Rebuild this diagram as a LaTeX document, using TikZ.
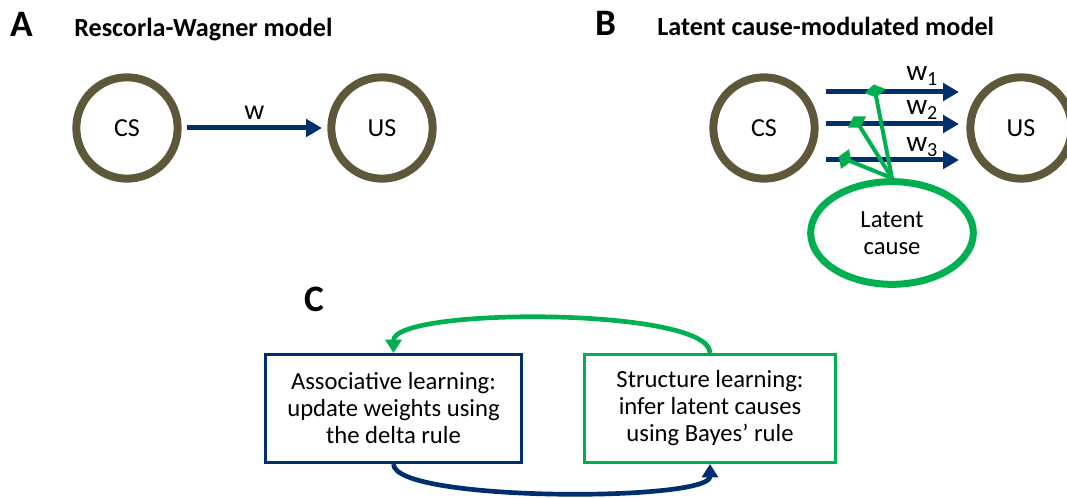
\documentclass[tikz,border=0pt]{standalone}
\usepackage{fontspec}
\setmainfont{Carlito}
\usetikzlibrary{arrows.meta,positioning,shapes.geometric}

\definecolor{stimbrown}{RGB}{94,87,58}
\definecolor{wnavy}{RGB}{0,47,110}
\definecolor{lcgreen}{RGB}{0,176,80}

\begin{document}
\begin{tikzpicture}[
    x=0.75pt, y=-0.75pt,
    every node/.style={font=\fontsize{18.5}{20.25}\selectfont},
    panel/.style={anchor=base west, inner sep=0pt, font=\fontsize{28}{32}\selectfont\bfseries},
    heading/.style={anchor=base west, inner sep=0pt, font=\fontsize{19.6}{23}\selectfont\bfseries},
    stim/.style={circle, draw=stimbrown, line width=6pt, minimum size=76pt, inner sep=0pt, font=\fontsize{19.5}{22}\selectfont},
    weight/.style={draw=wnavy, line width=3.75pt, -{Triangle[length=12pt,width=13pt]}},
    wlabel/.style={anchor=base west, inner sep=0pt, font=\fontsize{22}{26}\selectfont},
    latent/.style={ellipse, draw=lcgreen, line width=5.25pt, minimum width=122pt, minimum height=77pt, align=center},
    modlink/.style={draw=lcgreen, line width=3pt, -{Diamond[length=10pt,width=16pt]}, shorten >=-5pt},
    learnbox/.style={rectangle, line width=2.25pt, minimum height=81pt, align=center},
    cycle/.style={line width=3.5pt, -{Triangle[length=10pt,width=12pt]}}
]
\useasboundingbox (0,0) rectangle (1067,498);

% Panel A
\node[panel] (labA) at (10,37) {A};
\node[heading] (titA) at (74,37) {Rescorla-Wagner model};
\node[stim] (csA) at (127,128) {CS};
\node[stim] (usA) at (382,128) {US};
\draw[weight, shorten <=4pt, shorten >=4pt] (csA) -- node[above=6pt, inner sep=0pt, anchor=base, font=\fontsize{21}{24}\selectfont] {w} (usA);

% Panel B
\node[panel] (labB) at (595,36) {B};
\node[heading] (titB) at (657,36) {Latent cause-modulated model};
\node[stim] (csB) at (764,128) {CS};
\node[stim] (usB) at (1021,128) {US};
\node[latent] (lc) at (892,233) {Latent\\cause};

\coordinate (s1) at (826,92);  \coordinate (e1) at (959,92);
\coordinate (s2) at (826,124); \coordinate (e2) at (959,124);
\coordinate (s3) at (826,160); \coordinate (e3) at (959,160);
\draw[weight] (s1) -- (e1);
\draw[weight] (s2) -- (e2);
\draw[weight] (s3) -- (e3);
\node[wlabel] (w1) at (906,81) {w\textsubscript{\fontsize{15}{18}\selectfont 1}};
\node[wlabel] (w2) at (906,115) {w\textsubscript{\fontsize{15}{18}\selectfont 2}};
\node[wlabel] (w3) at (906,152) {w\textsubscript{\fontsize{15}{18}\selectfont 3}};

% latent cause modulates the weights
\coordinate (t1) at (875,91);
\coordinate (t2) at (857,122);
\coordinate (t3) at (845,159);
\draw[modlink] (lc.north) -- (t1);
\draw[modlink] (lc.north) -- (t2);
\draw[modlink] (lc.north) -- (t3);

% Panel C
\node[panel] (labC) at (304,312) {C};
\node[learnbox, draw=wnavy, minimum width=192pt] (assoc) at (393.5,408.5)
    {Associative learning:\\update weights using\\the delta rule};
\node[learnbox, draw=lcgreen, minimum width=188pt] (struct) at (710,408.5)
    {Structure learning:\\infer latent causes\\using Bayes' rule};

\draw[cycle, lcgreen] (struct.north) .. controls +(0,-46) and +(0,-46) .. (assoc.north);
\draw[cycle, wnavy] (assoc.south) .. controls +(0,38) and +(0,38) .. (struct.south);

\end{tikzpicture}
\end{document}
